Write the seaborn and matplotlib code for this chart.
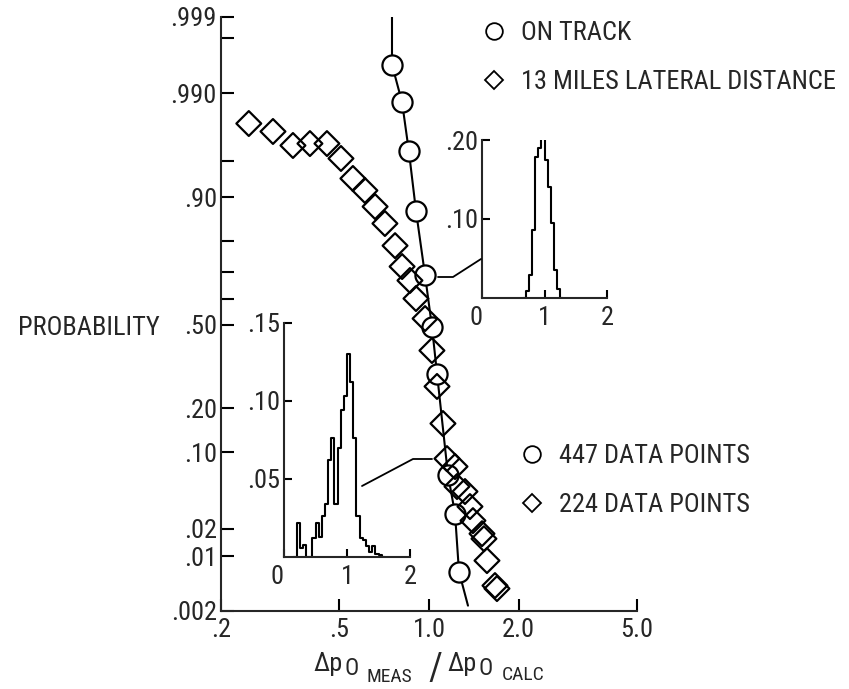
from statistics import NormalDist

import matplotlib.pyplot as plt
import numpy as np
import seaborn as sns
from matplotlib.lines import Line2D
from matplotlib.ticker import FixedLocator, NullLocator

# ---- data ----
track_x = [0.751, 0.812, 0.856, 0.904, 0.970, 1.023, 1.064, 1.158, 1.223, 1.261]
track_p = [0.9955, 0.9872, 0.959, 0.874, 0.689, 0.492, 0.311, 0.0658, 0.0288, 0.00653]

# hand drawn curve through the on-track points
curve_x = [0.751] + track_x + [1.352]
curve_p = [0.9990] + track_p + [0.00237]

lateral_x = [0.248, 0.299, 0.349, 0.398, 0.454, 0.506, 0.555, 0.609, 0.659, 0.711,
             0.769, 0.812, 0.863, 0.904, 0.970, 1.023, 1.064, 1.114, 1.149, 1.223,
             1.242, 1.321, 1.373, 1.405, 1.507, 1.530, 1.566, 1.666, 1.692]
lateral_p = [0.9783, 0.9738, 0.964, 0.9655, 0.9655, 0.9524, 0.9289, 0.911, 0.882, 0.845,
             0.786, 0.72, 0.671, 0.603, 0.524, 0.397, 0.267, 0.160, 0.089, 0.0768,
             0.0518, 0.0467, 0.0337, 0.0244, 0.0178, 0.0157, 0.00885, 0.00436, 0.00399]

# inset histograms (bin edges, fraction per bin)
track_edges = [0.65, 0.70, 0.75, 0.80, 0.85, 0.90, 0.95, 1.00, 1.05, 1.10, 1.15, 1.20, 1.25, 1.30]
track_frac = [0.0, 0.009, 0.029, 0.086, 0.178, 0.19, 0.205, 0.175, 0.141, 0.095, 0.035, 0.011, 0.0]

lateral_edges = [0.15, 0.20, 0.25, 0.30, 0.35, 0.40, 0.45, 0.50, 0.55, 0.60, 0.65, 0.70, 0.75,
                 0.80, 0.85, 0.90, 0.95, 1.00, 1.05, 1.10, 1.15, 1.20, 1.25, 1.30, 1.35,
                 1.40, 1.45, 1.50, 1.55, 1.60]
lateral_frac = [0.0, 0.022, 0.006, 0.008, 0.0, 0.0, 0.012, 0.022, 0.013, 0.026, 0.034, 0.062,
                0.076, 0.034, 0.070, 0.094, 0.103, 0.130, 0.112, 0.076, 0.026, 0.012, 0.011,
                0.007, 0.003, 0.007, 0.002, 0.001, 0.0]

x_ticks = [0.2, 0.5, 1.0, 2.0, 5.0]
x_labels = [".2", ".5", "1.0", "2.0", "5.0"]
p_ticks = [0.999, 0.99, 0.90, 0.50, 0.20, 0.10, 0.02, 0.01, 0.002]
p_labels = [".999", ".990", ".90", ".50", ".20", ".10", ".02", ".01", ".002"]
p_minor = [0.998, 0.95, 0.80, 0.70, 0.60]

# ---- style ----
sns.set_style("ticks")
plt.rcParams["font.family"] = ["Liberation Sans Narrow", "Roboto Condensed",
                               "DejaVu Sans Condensed", "Liberation Sans", "DejaVu Sans"]
plt.rcParams["axes.linewidth"] = 1.5
FS = 19

W, H = 849, 689
_nd = NormalDist()


def probit(p):
    p = np.clip(np.asarray(p, dtype=float), 1e-9, 1 - 1e-9)
    return np.vectorize(_nd.inv_cdf, otypes=[float])(p)


def inv_probit(z):
    return np.vectorize(_nd.cdf, otypes=[float])(np.asarray(z, dtype=float))


def px(x, y):
    return x / W, 1 - y / H


fig = plt.figure(figsize=(W / 100, H / 100), dpi=100)
ax = fig.add_axes([221 / W, 78 / H, 416 / W, 594 / H])
ax.set_xscale("log")
ax.set_yscale("function", functions=(probit, inv_probit))
ax.set_xlim(0.2, 5.0)
ax.set_ylim(0.002, 0.999)

sns.lineplot(x=curve_x, y=curve_p, ax=ax, color="black", lw=1.5, sort=False,
             estimator=None, zorder=2)
sns.scatterplot(x=track_x, y=track_p, ax=ax, marker="o", s=210, color="white",
                edgecolor="black", linewidth=1.6, zorder=3)
sns.scatterplot(x=lateral_x, y=lateral_p, ax=ax, marker="D", s=160, color="white",
                edgecolor="black", linewidth=1.6, zorder=4)
ax.collections[-1].set_facecolor("none")

ax.xaxis.set_major_locator(FixedLocator(x_ticks))
ax.xaxis.set_minor_locator(NullLocator())
ax.set_xticklabels(x_labels)
ax.yaxis.set_major_locator(FixedLocator(p_ticks))
ax.yaxis.set_minor_locator(FixedLocator(p_minor))
ax.set_yticklabels(p_labels)
ax.tick_params(axis="both", which="both", direction="in", length=9, width=1.5,
               labelsize=FS, color="black")
ax.tick_params(axis="y", which="both", pad=3)
ax.tick_params(axis="x", which="both", pad=5)
for s in ["top", "right"]:
    ax.spines[s].set_visible(False)

ax.set_ylabel("PROBABILITY", fontsize=FS, rotation=0, ha="right", va="center")
ax.yaxis.set_label_coords(-0.147, 0.476)

# x label with stacked subscripts: (text, size, left px, baseline px)
xlabel_parts = [("\u0394p", FS, 313, 671), ("O", FS - 2, 344, 675),
                ("MEAS", FS - 5, 366, 682), ("/", FS + 8, 428, 680),
                ("\u0394p", FS, 447, 671), ("O", FS - 2, 478, 675),
                ("CALC", FS - 5, 502, 680)]
for txt, size, x0, y0 in xlabel_parts:
    fig.text(*px(x0, y0), txt, fontsize=size, ha="left", va="baseline")

# ---- legends ----
circ = Line2D([], [], marker="o", ls="none", mfc="none", mec="black", ms=12, mew=1.3)
diam = Line2D([], [], marker="D", ls="none", mfc="none", mec="black", ms=9, mew=1.3)
leg_kw = dict(frameon=False, fontsize=FS, handlelength=1.0, handletextpad=0.5,
              labelspacing=0.95, borderpad=0, borderaxespad=0, loc="upper left")
fig.legend([circ, diam], ["ON TRACK", "13 MILES LATERAL DISTANCE"],
           bbox_to_anchor=px(481, 21), **leg_kw)
fig.legend([circ, diam], ["447 DATA POINTS", "224 DATA POINTS"],
           bbox_to_anchor=px(519, 444), **leg_kw)


# ---- insets ----
def inset(rect_px, edges, frac, ymax, yticks, ylabels):
    l, t, r, b = rect_px
    a = fig.add_axes([l / W, 1 - b / H, (r - l) / W, (b - t) / H])
    centers = [(edges[i] + edges[i + 1]) / 2 for i in range(len(frac))]
    sns.histplot(x=centers, weights=frac, bins=edges, element="step", fill=False,
                 color="black", lw=1.5, ax=a)
    a.set_xlim(0, 2)
    a.set_ylim(0, ymax)
    a.set_xticks([0, 1, 2])
    a.set_xticklabels(["0", "1", "2"])
    a.get_xticklabels()[0].set_ha("right")
    a.set_yticks(yticks)
    a.set_yticklabels(ylabels)
    a.set_xlabel("")
    a.set_ylabel("")
    a.tick_params(axis="both", direction="in", length=6, width=1.5, labelsize=FS,
                  color="black")
    a.tick_params(axis="y", pad=3)
    a.tick_params(axis="x", pad=6)
    for s in ["top", "right"]:
        a.spines[s].set_visible(False)
    a.patch.set_alpha(0)
    return a


inset((482, 140, 607, 298), track_edges, track_frac, 0.2, [0.10, 0.20], [".10", ".20"])
inset((284, 323, 410, 557), lateral_edges, lateral_frac, 0.15, [0.05, 0.10, 0.15],
      [".05", ".10", ".15"])

# connector lines from curves to insets
for pts in ([(438, 277), (453, 277), (481, 259)], [(362, 486), (413, 459), (432, 459)]):
    xs, ys = zip(*[px(*p) for p in pts])
    fig.add_artist(Line2D(xs, ys, color="black", lw=1.3, transform=fig.transFigure))

fig.savefig("out.png", dpi=100, facecolor="white")
